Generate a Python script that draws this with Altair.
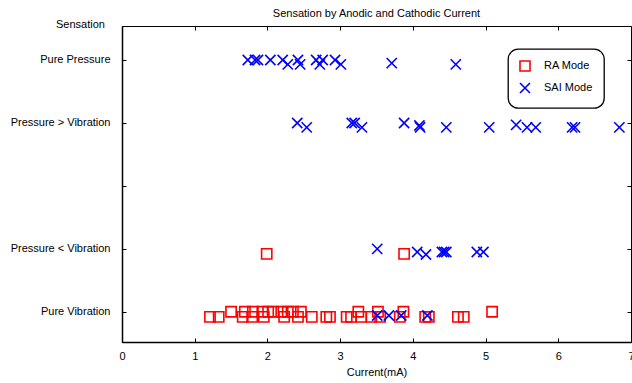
import altair as alt
import pandas as pd

# Sensation categories on the vertical axis (3 is an unlabeled gap)
level_values = [1, 2, 3, 4, 5]
level_labels = ["Pure Vibration", "Pressure < Vibration", "", "Pressure > Vibration", "Pure Pressure"]
x_ticks = [0, 1, 2, 3, 4, 5, 6, 7]
modes = ["RA Mode", "SAI Mode"]

# RA mode trials: current (mA) and reported sensation level
ra_current = [
    1.50, 1.69, 1.80, 1.93, 2.01, 2.08, 2.19, 2.28, 2.35, 2.46, 3.25, 3.52, 3.87, 5.09,
    1.21, 1.33, 1.66, 1.79, 1.95, 2.23, 2.42, 2.61, 2.81, 2.86, 3.09, 3.15, 3.29, 3.43,
    3.55, 3.82, 4.17, 4.22, 4.62, 4.70,
    1.99, 3.88,
]
ra_level = [
    1.0, 1.0, 1.0, 1.0, 1.0, 1.0, 1.0, 1.0, 1.0, 1.0, 1.0, 1.0, 1.0, 1.0,
    0.92, 0.92, 0.92, 0.92, 0.92, 0.92, 0.92, 0.92, 0.92, 0.92, 0.92, 0.92, 0.92, 0.92,
    0.92, 0.92, 0.92, 0.92, 0.92, 0.92,
    1.92, 1.92,
]

# SAI mode trials: current (mA) and reported sensation level
sai_current = [
    1.73, 1.83, 1.87, 2.04, 2.21, 2.42, 2.67, 2.76, 2.93,
    2.28, 2.45, 2.72, 3.01, 3.71, 4.59,
    2.41, 3.16, 3.20, 3.88, 5.42,
    2.54, 3.30, 4.09, 4.10, 4.46, 5.05, 5.57, 5.69, 6.19, 6.23, 6.84,
    3.51, 4.06, 4.18, 4.40, 4.43, 4.46, 4.88, 4.97,
    3.51, 3.67, 3.84, 4.20,
]
sai_level = [
    5.0, 5.0, 5.0, 5.0, 5.0, 5.0, 5.0, 5.0, 5.0,
    4.93, 4.93, 4.93, 4.93, 4.95, 4.93,
    4.0, 4.0, 4.0, 4.0, 3.97,
    3.93, 3.93, 3.96, 3.93, 3.93, 3.93, 3.93, 3.93, 3.93, 3.93, 3.93,
    2.0, 1.95, 1.91, 1.95, 1.95, 1.95, 1.95, 1.95,
    0.94, 0.94, 0.94, 0.94,
]

df = pd.DataFrame({
    "mode": [modes[0]] * len(ra_current) + [modes[1]] * len(sai_current),
    "current": ra_current + sai_current,
    "level": ra_level + sai_level,
})

W, H = 509, 316
FONT = "Liberation Sans"

label_expr = " : ".join(
    f"datum.value == {v} ? '{t}'" for v, t in zip(level_values, level_labels)
) + " : ''"

x_scale = alt.Scale(domain=[0, 7], nice=False, zero=False)
y_scale = alt.Scale(domain=[0.52, 5.54], nice=False, zero=False)

legend = alt.Legend(
    title=None, orient="none", legendX=386, legendY=23,
    strokeColor="black", cornerRadius=10, padding=11,
    symbolSize=100, symbolStrokeWidth=1.6, labelFontSize=11, labelFont=FONT,
    labelOffset=13, rowPadding=4, fillColor="white",
)

points = alt.Chart(df).mark_point(filled=False, size=105, strokeWidth=1.6, opacity=1).encode(
    x=alt.X("current:Q", scale=x_scale, axis=alt.Axis(
        values=x_ticks, format="d", ticks=False, tickSize=0, labelPadding=8,
        labelFlush=False, domainColor="black", domainWidth=1.5, grid=False,
        title="Current(mA)", titlePadding=5, titleFontWeight="normal",
    )),
    y=alt.Y("level:Q", scale=y_scale, axis=alt.Axis(
        values=level_values, labelExpr=label_expr, ticks=False, tickSize=0,
        labelPadding=12, domainColor="black", domainWidth=1.5, grid=False,
        title="Sensation", titleAngle=0, titleX=-42, titleY=-2,
        titleAlign="center", titleBaseline="middle", titleFontWeight="normal",
    )),
    color=alt.Color("mode:N", scale=alt.Scale(domain=modes, range=["#ff0000", "#0000ff"]), legend=legend),
    shape=alt.Shape("mode:N", scale=alt.Scale(domain=modes, range=["square", "M-1,-1L1,1M-1,1L1,-1"]), legend=legend),
)

# Inward-pointing tick marks on all four sides of the frame
tick_style = dict(labels=False, domain=False, grid=False, title=None, ticks=True,
                  tickSize=4, tickColor="black", tickWidth=1)

ticks_a = alt.Chart(df).mark_point(opacity=0).encode(
    x=alt.X("current:Q", scale=x_scale, axis=alt.Axis(orient="top", offset=-H, values=x_ticks, **tick_style)),
    y=alt.Y("level:Q", scale=y_scale, axis=alt.Axis(orient="right", offset=-W, values=level_values, **tick_style)),
)
ticks_b = alt.Chart(df).mark_point(opacity=0).encode(
    x=alt.X("current:Q", scale=x_scale, axis=alt.Axis(orient="bottom", offset=-H, values=x_ticks, **tick_style)),
    y=alt.Y("level:Q", scale=y_scale, axis=alt.Axis(orient="left", offset=-W, values=level_values, **tick_style)),
)

chart = alt.layer(ticks_a, ticks_b, points).resolve_axis(
    x="independent", y="independent"
).properties(
    width=W, height=H,
    title=alt.TitleParams("Sensation by Anodic and Cathodic Current", fontSize=11,
                          font=FONT, fontWeight="normal", offset=8, anchor="middle",
                          frame="group", dy=9),
    autosize=alt.AutoSizeParams(type="none"),
    padding={"left": 122, "top": 26, "right": 1, "bottom": 41},
).configure_view(
    stroke="black", strokeWidth=1,
).configure_axis(
    labelFont=FONT, labelFontSize=11, titleFont=FONT, titleFontSize=11,
    labelColor="black", titleColor="black",
).configure_legend(
    strokeWidth=1.3,
)

chart.save("out.html", embed_options={"renderer": "svg", "actions": False})
